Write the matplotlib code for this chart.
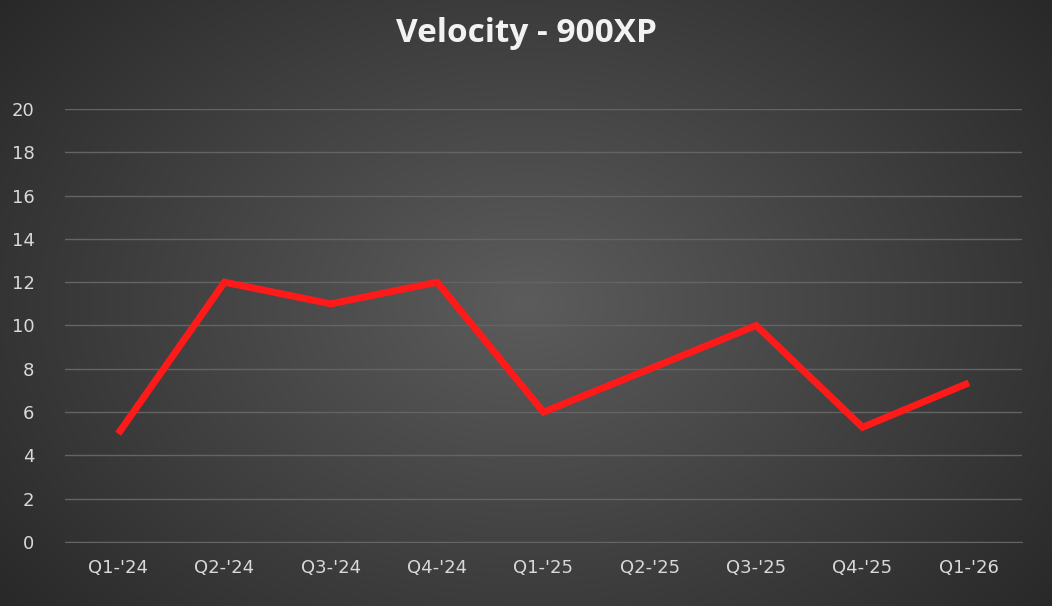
import numpy as np
import matplotlib
matplotlib.use("Agg")
import matplotlib.pyplot as plt

categories = ["Q1-'24", "Q2-'24", "Q3-'24", "Q4-'24", "Q1-'25", "Q2-'25", "Q3-'25", "Q4-'25", "Q1-'26"]
values = [5, 12, 11, 12, 6, 8, 10, 5.3, 7.35]
yticks = list(range(0, 21, 2))

W, H = 1052, 606
fig = plt.figure(figsize=(W/100, H/100), dpi=100)

# radial gradient background
bg = fig.add_axes([0, 0, 1, 1])
yy, xx = np.mgrid[0:H, 0:W]
r = np.sqrt(((xx - W/2)/(W*0.65))**2 + ((yy - H/2)/(H*0.8))**2)
r = np.clip(r, 0, 1)
c0 = np.array([0x5c, 0x5c, 0x5c]) / 255
c1 = np.array([0x28, 0x28, 0x28]) / 255
img = c0[None, None, :] * (1 - r[..., None]) + c1[None, None, :] * r[..., None]
bg.imshow(img, aspect='auto', extent=[0, 1, 0, 1])
bg.axis('off')

ax = fig.add_axes([65/W, 1 - 542/H, (1022-65)/W, (542-109)/H])
ax.patch.set_alpha(0)
x = np.arange(len(categories))
ax.plot(x, values, color='#ff1a1a', lw=5, solid_joinstyle='miter', solid_capstyle='butt', zorder=3)
ax.set_xlim(-0.5, len(categories) - 0.5)
ax.set_ylim(0, 20)
ax.set_yticks(yticks)
ax.set_xticks(x)
ax.set_xticklabels(categories)
ax.grid(axis='y', color='#646464', lw=1)
ax.set_axisbelow(True)
for s in ax.spines.values():
    s.set_visible(False)
ax.spines['bottom'].set_visible(True)
ax.spines['bottom'].set_color('#646464')
ax.tick_params(length=0, colors='#d9d9d9', labelsize=13)
ax.tick_params(axis='x', pad=12)
ax.tick_params(axis='y', pad=22)
fig.text(0.5, 1 - 33/H, "Velocity - 900XP", ha='center', va='center', color='#f2f2f2',
         fontsize=24, fontweight='bold', family='Open Sans')
fig.savefig("out.png", dpi=100)
